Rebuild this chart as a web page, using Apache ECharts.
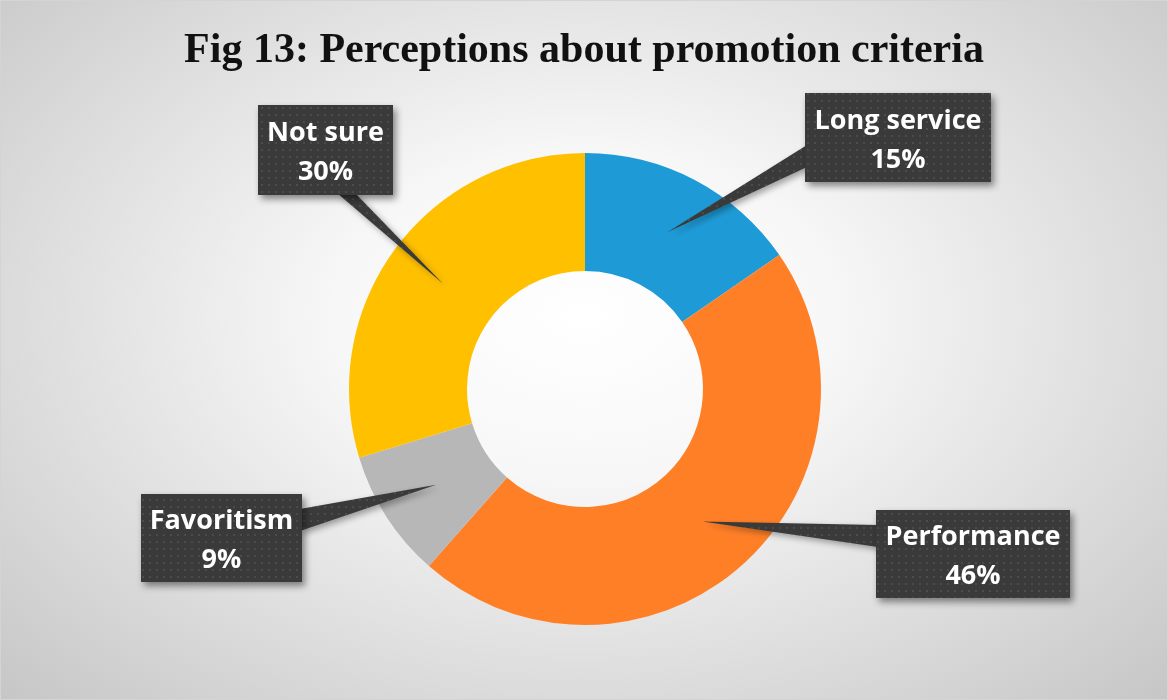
<!DOCTYPE html>
<html><head><meta charset="utf-8">
<script src="https://cdn.jsdelivr.net/npm/echarts@6/dist/echarts.min.js"></script>
<style>
html,body{margin:0;padding:0;}
#c{width:1168px;height:700px;background:radial-gradient(ellipse farthest-corner at 50% 45%, #ffffff 0%, #f7f7f7 30%, #c6c6c6 100%);}
#frame{position:absolute;left:0;top:0;width:1166px;height:698px;border:1px solid #d4d4d4;pointer-events:none;}
</style>
</head><body><div id="c"></div><div id="frame"></div>
<script>
// ---- data ----
const categories = ['Long service', 'Performance', 'Favoritism', 'Not sure'];
const values = [15.4, 46.1, 8.8, 29.7];   // slice shares (labels show rounded %)
const title = 'Fig 13: Perceptions about promotion criteria';

// ---- styles / layout ----
const palette = ['#1E9BD7', '#FF7F27', '#B7B7B7', '#FFC000'];
const boxes = [
  {x: 805, y: 93, w: 186, h: 89, side: 'left', at: 156},
  {x: 876, y: 510, w: 194, h: 88, side: 'left', at: 536},
  {x: 141, y: 494, w: 161, h: 88, side: 'right', at: 520},
  {x: 258, y: 105, w: 135, h: 90, side: 'bottom', at: 346}
];

const chart = echarts.init(document.getElementById('c'), null, {renderer: 'canvas'});

// dotted dark pattern
const pc = document.createElement('canvas');
pc.width = 7; pc.height = 7;
const g = pc.getContext('2d');
g.fillStyle = '#3a3a3a'; g.fillRect(0, 0, 7, 7);
g.fillStyle = '#4b4b4b'; g.fillRect(2, 2, 2, 2);

chart.setOption({
  backgroundColor: 'transparent',
  title: {
    text: title, left: 'center', top: 25,
    textStyle: {fontFamily: 'Liberation Serif', fontWeight: 'bold', fontSize: 42, color: '#111111'}
  },
  series: [{
    type: 'pie',
    center: [585, 389],
    radius: [118, 236],
    startAngle: 90,
    clockwise: true,
    silent: true,
    animation: false,
    label: {show: false},
    labelLine: {show: false},
    data: categories.map((n, i) => ({name: n, value: values[i], itemStyle: {color: palette[i]}}))
  }]
});

// callouts derived from the pie's own layout
const data = chart.getModel().getSeriesByIndex(0).getData();
const graphics = [];
categories.forEach((name, i) => {
  const L = data.getItemLayout(i);
  const mid = (L.startAngle + L.endAngle) / 2;
  const rm = (L.r + L.r0) / 2;
  const tx = L.cx + rm * Math.cos(mid);
  const ty = L.cy + rm * Math.sin(mid);
  const b = boxes[i];
  const hw = 11;
  let p1, p2;
  if (b.side === 'left') { p1 = [b.x + 2, b.at - hw]; p2 = [b.x + 2, b.at + hw]; }
  else if (b.side === 'right') { p1 = [b.x + b.w - 2, b.at - hw]; p2 = [b.x + b.w - 2, b.at + hw]; }
  else { p1 = [b.at - hw + 2, b.y + b.h - 2]; p2 = [b.at + hw - 2, b.y + b.h - 2]; }
  graphics.push({
    type: 'polygon', z: 10, silent: true,
    shape: {points: [[tx, ty], p1, p2]},
    style: {fill: {image: pc, repeat: 'repeat'}, shadowBlur: 6, shadowOffsetX: 3, shadowOffsetY: 3, shadowColor: 'rgba(0,0,0,0.35)'}
  });
  graphics.push({
    type: 'rect', z: 11, silent: true,
    shape: {x: b.x, y: b.y, width: b.w, height: b.h},
    style: {fill: {image: pc, repeat: 'repeat'}, shadowBlur: 7, shadowOffsetX: 3, shadowOffsetY: 4, shadowColor: 'rgba(0,0,0,0.45)'}
  });
  graphics.push({
    type: 'text', z: 12, silent: true,
    x: b.x + b.w / 2, y: b.y + b.h / 2 + 3,
    style: {
      text: name + '\n' + Math.round(values[i]) + '%',
      fill: '#ffffff', font: 'bold 27px "Open Sans"',
      lineHeight: 39, align: 'center', verticalAlign: 'middle'
    }
  });
});
chart.setOption({graphic: graphics});
</script>
</body></html>
